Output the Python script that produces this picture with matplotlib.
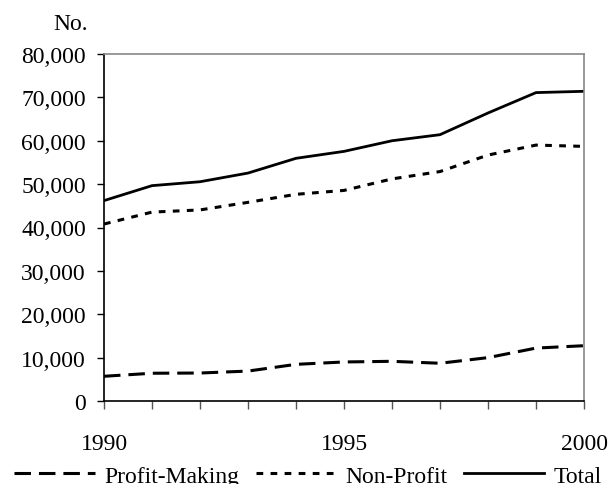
import matplotlib.pyplot as plt
from matplotlib.ticker import FuncFormatter

plt.rc("font", family="Liberation Serif", size=17)

years = [1990, 1991, 1992, 1993, 1994, 1995, 1996, 1997, 1998, 1999, 2000]
profit = [5700, 6400, 6450, 6900, 8450, 9000, 9150, 8700, 10000, 12200, 12750]
non_profit = [40800, 43550, 44050, 45800, 47650, 48550, 51200, 52900, 56700, 59000, 58700]
total = [46200, 49650, 50550, 52550, 55950, 57550, 60000, 61400, 66400, 71100, 71400]

fig = plt.figure(figsize=(6.1, 4.85), dpi=100)
ax = fig.add_axes([104 / 610, 1 - 402 / 485, 480 / 610, 347 / 485])

ax.plot(years, profit, color="black", linewidth=2.2, dashes=(5.4, 2.6), label="Profit-Making")
ax.plot(years, non_profit, color="black", linewidth=2.2, dashes=(2.2, 2.4), label="Non-Profit")
ax.plot(years, total, color="black", linewidth=2.0, label="Total")

ax.set_xlim(1990, 2000)
ax.set_ylim(0, 80000)
ax.set_yticks(range(0, 80001, 10000))
ax.yaxis.set_major_formatter(FuncFormatter(lambda v, p: "{:,.0f}".format(v)))
ax.set_xticks(years)
ax.set_xticklabels([str(y) if y % 5 == 0 else "" for y in years])
ax.tick_params(axis="y", length=5, width=1, pad=8)
ax.tick_params(axis="x", length=6, width=1, pad=17, color="#555555")

ax.spines["left"].set_color("black")
ax.spines["bottom"].set_color("black")
ax.spines["top"].set_color("#888888")
ax.spines["right"].set_color("#888888")
for s in ax.spines.values():
    s.set_linewidth(1.2)

fig.text(88 / 610, 1 - 25 / 485, "No.", ha="right", va="center")

fig.legend(loc="center", bbox_to_anchor=(0.505, 1 - 477 / 485), ncol=3, frameon=False,
           handlelength=3.4, handletextpad=0.4, columnspacing=0.7, borderaxespad=0)

fig.savefig("out.png", dpi=100)
